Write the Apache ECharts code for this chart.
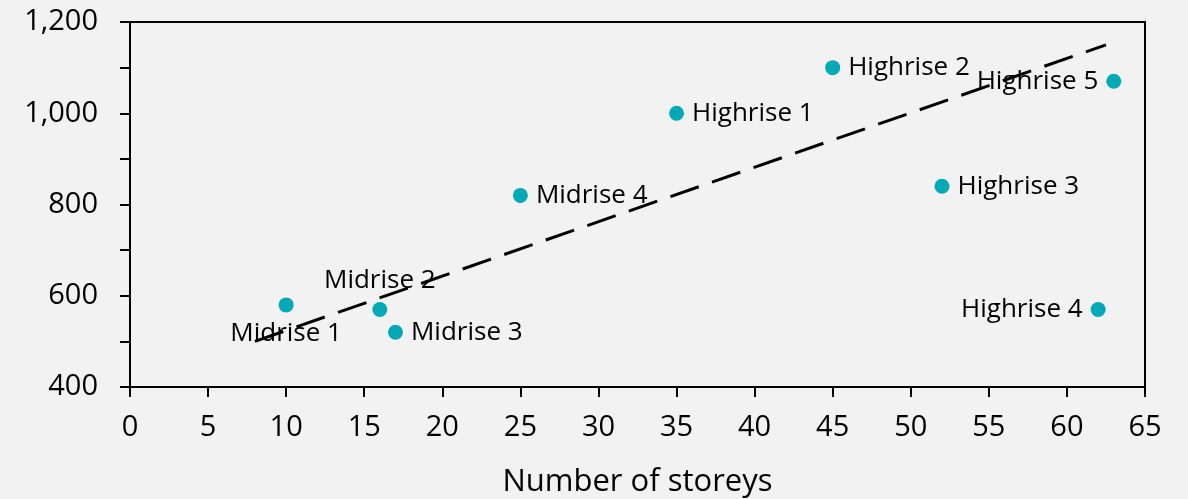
<!DOCTYPE html>
<html>
<head>
<meta charset="utf-8">
<script src="https://cdn.jsdelivr.net/npm/echarts@6/dist/echarts.min.js"></script>
<style>
html,body{margin:0;padding:0;background:#f2f2f2;}
#c{width:1188px;height:499px;}
</style>
</head>
<body>
<div id="c"></div>
<script>
const names = ['Midrise 1','Midrise 2','Midrise 3','Midrise 4','Highrise 1','Highrise 2','Highrise 3','Highrise 4','Highrise 5'];
const storeys = [10, 16, 17, 25, 35, 45, 52, 62, 63];
const values = [580, 570, 520, 820, 1000, 1100, 840, 570, 1070];
const labelSide = ['bottom','top','right','right','right','right','right','left','left'];
const trendX = [8, 62.5];
const trendY = [500, 1150];

const FONT = 'Open Sans';
const chart = echarts.init(document.getElementById('c'), null, {renderer:'canvas'});
chart.setOption({
  backgroundColor: '#f2f2f2',
  animation: false,
  grid: {left:130, right:43, top:22, bottom:112, outerBoundsMode:'none', containLabel:false,
    show:true, borderColor:'#000', borderWidth:2, backgroundColor:'transparent'},
  xAxis: {
    type:'value', min:0, max:65, interval:5,
    name:'Number of storeys', nameLocation:'middle', nameGap:80,
    nameTextStyle:{fontFamily:FONT, fontSize:31, color:'#000'},
    axisLine:{show:true, onZero:false, lineStyle:{color:'#000', width:2}},
    axisTick:{show:true, inside:false, length:10, lineStyle:{color:'#000', width:2}},
    axisLabel:{fontFamily:FONT, fontSize:29, color:'#000', margin:26},
    splitLine:{show:false}
  },
  yAxis: {
    type:'value', min:400, max:1200, interval:200,
    axisLine:{show:true, lineStyle:{color:'#000', width:2}},
    axisTick:{show:true, inside:false, length:10, lineStyle:{color:'#000', width:2}},
    minorTick:{show:true, splitNumber:2, length:10, lineStyle:{color:'#000', width:2}},
    axisLabel:{fontFamily:FONT, fontSize:29, color:'#000', margin:32,
      formatter: v => v.toLocaleString('en-US')},
    splitLine:{show:false}
  },
  series: [
    {
      type:'line',
      data: trendX.map((x,i)=>[x, trendY[i]]),
      symbol:'none',
      lineStyle:{color:'#000', width:3, type:[30,14]},
      z:3
    },
    {
      type:'scatter',
      symbolSize:15,
      itemStyle:{color:'#00a9b5', opacity:1},
      data: storeys.map((x,i)=>({
        value:[x, values[i]],
        name:names[i],
        label:{position:labelSide[i]}
      })),
      label:{show:true, formatter: p => p.name, fontFamily:FONT, fontSize:26, color:'#000', distance:8},
      z:2
    }
  ]
});
</script>
</body>
</html>
